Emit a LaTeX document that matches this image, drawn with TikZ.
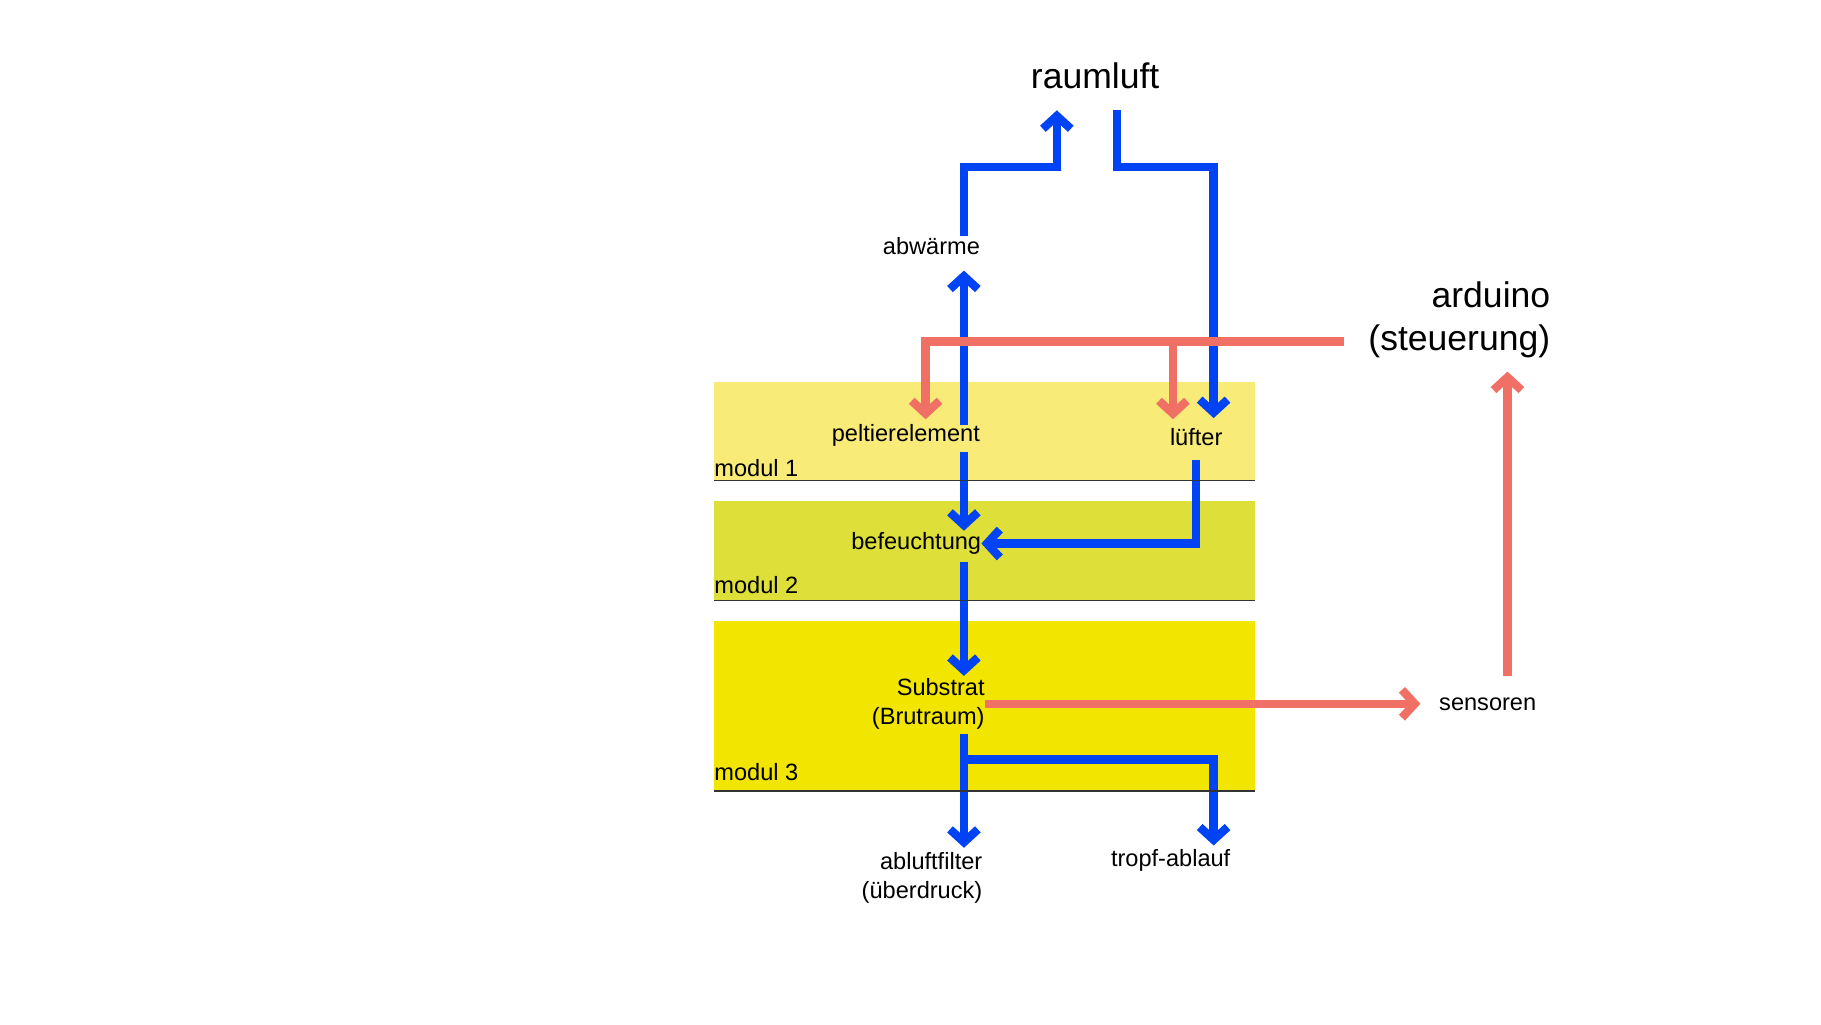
\documentclass[tikz,border=0pt]{standalone}
\usepackage{fontspec}
\setmainfont{Liberation Sans}
\usetikzlibrary{arrows.meta,positioning}
\definecolor{airblue}{HTML}{0043F5}
\definecolor{signalred}{HTML}{F07066}
\definecolor{modulA}{HTML}{F8EB78}
\definecolor{modulB}{HTML}{DFDF3A}
\definecolor{modulC}{HTML}{F2E500}

\begin{document}
\begin{tikzpicture}[x=1pt,y=-1pt,
  lbl/.style={inner sep=0pt,font=\fontsize{20.3}{25}\selectfont},
  biglbl/.style={inner sep=0pt,font=\fontsize{30.6}{37}\selectfont},
  air/.style={draw=airblue,line width=7.2pt,-{Straight Barb[length=11pt,width=24pt]}},
  signal/.style={draw=signalred,line width=7.2pt,-{Straight Barb[length=11pt,width=24pt]}}]
\useasboundingbox (0,0) rectangle (1568,882);
% module boxes
\fill[modulA] (615,329) rectangle (1081,414);
\fill[modulB] (615,431) rectangle (1081,517);
\fill[modulC] (615,535) rectangle (1081,681);
\node[lbl,anchor=west] (m1) at (615,403) {modul 1};
\node[lbl,anchor=west] (m2) at (615,504) {modul 2};
\node[lbl,anchor=west] (m3) at (615,665) {modul 3};
% labels
\node[biglbl] (raumluft) at (943,65) {raumluft};
\node[lbl] (abwaerme) at (802,212) {abwärme};
\node[lbl] (peltier) at (780,375) {peltierelement};
\node[lbl] (luefter) at (1030,376) {lüfter};
\node[lbl,anchor=east] (befeucht) at (845,468) {befeuchtung};
\node[lbl,anchor=east,align=right] (substrat) at (848,606) {Substrat\\(Brutraum)};
\node[lbl,anchor=east,align=right] (abluft) at (846,756) {abluftfilter\\(überdruck)};
\node[lbl] (tropf) at (1008,741) {tropf-ablauf};
\node[lbl] (sensoren) at (1281,606) {sensoren};
\node[biglbl,anchor=east,align=right] (arduino) at (1335,275) {arduino\\(steuerung)};
% air
\draw[air] ([shift={(28,-9)}]abwaerme.center) -- ++(0,-59) -| ([shift={(-33,30)}]raumluft.center);
\draw[air] ([shift={(19,30)}]raumluft.center) -- ++(0,49) -| ([shift={(15,-16)}]luefter.center);
\draw[air] ([shift={(50,-9)}]peltier.center) -- ([shift={(28,21)}]abwaerme.center);
\draw[air] ([shift={(50,14)}]peltier.center) -- ([shift={(-15,-11)}]befeucht.east);
\draw[air] ([shift={(0,20)}]luefter.center) |- (befeucht.east);
\draw[air] ([shift={(-15,16)}]befeucht.east) -- ([shift={(-18,-24)}]substrat.east);
\draw[air] ([shift={(-18,26)}]substrat.east) -- ([shift={(-16,-26)}]abluft.east);
\draw[air] ([shift={(-18,48)}]substrat.east) -| ([shift={(37,-13)}]tropf.center);
% control
\draw[signal] ([shift={(-178,19)}]arduino.east) -| ([shift={(17,-14)}]peltier.center);
\draw[signal] ([shift={(-20,-82)}]luefter.center) -- ([shift={(-20,-15)}]luefter.center);
\draw[signal,shorten >=16pt] (substrat.east) -- (substrat.east -| sensoren.west);
\draw[signal] ([shift={(17,-24)}]sensoren.center) -- ([shift={(-37,45)}]arduino.east);
% box edges
\draw[black!80,line width=1.2pt] (615,414) -- (1081,414);
\draw[black!80,line width=1.2pt] (615,517) -- (1081,517);
\draw[black!80,line width=1.2pt] (615,681) -- (1081,681);
\end{tikzpicture}
\end{document}
